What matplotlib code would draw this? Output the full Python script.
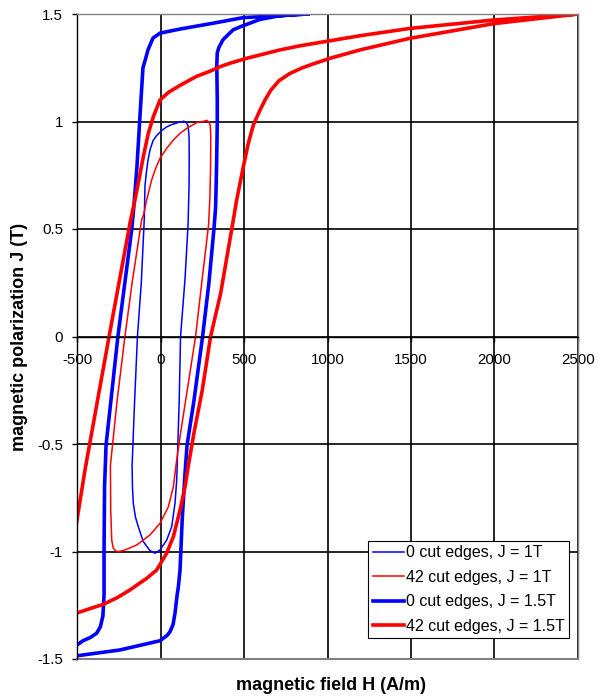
import matplotlib

matplotlib.use("Agg")

import matplotlib.pyplot as plt

plt.rcParams["font.family"] = ["Liberation Sans", "DejaVu Sans"]

# Hysteresis loops: each loop is traced from the upper tip down the
# descending branch and back up the ascending branch.
h_0cut_1t = [
    140, 115, 97, 65, 37, 10, -23, -45, -62, -75, -85, -93, -97, -115, -138,
    -155, -170, -168, -163, -150, -133, -103, -63, -33, -3, 37, 67, 87, 97, 100,
    112, 120, 147, 165, 171, 172, 171, 165, 155, 140,
]
j_0cut_1t = [
    1.0, 0.998, 0.993, 0.985, 0.975, 0.96, 0.935, 0.91, 0.87, 0.82, 0.76, 0.70,
    0.55, 0.25, 0.0, -0.3, -0.6, -0.70, -0.775, -0.84, -0.885, -0.954, -0.996,
    -1.008, -0.993, -0.947, -0.885, -0.775, -0.667, -0.6, -0.3, 0.0, 0.27, 0.52,
    0.7, 0.85, 0.93, 0.98, 0.995, 1.0,
]

h_42cut_1t = [
    277, 250, 217, 157, 117, 77, 37, -3, -30, -53, -83, -100, -113, -170, -213,
    -260, -300, -298, -292, -283, -262, -223, -143, -63, -3, 47, 77, 97, 120,
    150, 180, 210, 250, 288, 296, 300, 301, 298, 290, 277,
]
j_42cut_1t = [
    1.004, 1.0, 0.995, 0.968, 0.945, 0.914, 0.875, 0.829, 0.78, 0.728, 0.635,
    0.57, 0.542, 0.25, 0.0, -0.3, -0.6, -0.807, -0.947, -0.985, -1.001, -0.996,
    -0.97, -0.923, -0.869, -0.792, -0.699, -0.574, -0.45, -0.3, -0.15, 0.0,
    0.27, 0.52, 0.65, 0.8, 0.93, 0.98, 0.998, 1.004,
]

h_0cut_15t = [
    883, 700, 494, 314, 117, -3, -45, -75, -90, -105, -117, -129, -141, -160,
    -172, -255, -326, -335, -338, -338, -345, -360, -382, -420, -464, -500,
    -540, -570, -580, -540, -500, -243, -3, 40, 57, 75, 87, 100, 107, 117, 130,
    147, 159, 200, 252, 290, 320, 330, 336, 340, 340, 337, 340, 350, 374, 434,
    476, 596, 700, 793, 883,
]
j_0cut_15t = [
    1.5, 1.492, 1.483, 1.457, 1.43, 1.411, 1.388, 1.333, 1.29, 1.25, 1.1, 0.946,
    0.79, 0.6, 0.5, 0.0, -0.505, -0.7, -1.0, -1.2, -1.3, -1.35, -1.38, -1.4,
    -1.415, -1.435, -1.455, -1.47, -1.5, -1.492, -1.485, -1.458, -1.415, -1.39,
    -1.373, -1.34, -1.286, -1.2, -1.164, -1.086, -0.85, -0.635, -0.505, -0.3,
    0.0, 0.25, 0.5, 0.6, 0.8, 1.0, 1.1, 1.26, 1.32, 1.345, 1.38, 1.426, 1.44,
    1.475, 1.49, 1.497, 1.5,
]

h_42cut_15t = [
    2500, 1994, 1494, 1195, 995, 835, 716, 516, 420, 356, 300, 216, 117, 50,
    -3, -43, -73, -103, -133, -153, -179, -308, -452, -500, -540, -600, -560,
    -500, -420, -343, -260, -183, -130, -83, -23, 37, 77, 117, 147, 167, 200,
    250, 300, 360, 436, 456, 496, 526, 556, 596, 626, 660, 710, 776, 850, 915,
    1015, 1195, 1494, 1994, 2500,
]
j_42cut_15t = [
    1.5, 1.472, 1.433, 1.399, 1.373, 1.352, 1.333, 1.294, 1.272, 1.255, 1.235,
    1.21, 1.168, 1.137, 1.1, 1.022, 0.945, 0.836, 0.713, 0.635, 0.542, 0.0,
    -0.62, -0.853, -1.05, -1.35, -1.30, -1.286, -1.265, -1.246, -1.215, -1.179,
    -1.15, -1.125, -1.086, -1.008, -0.931, -0.807, -0.699, -0.6, -0.45, -0.25,
    0.0, 0.2, 0.542, 0.635, 0.79, 0.899, 0.984, 1.053, 1.1, 1.145, 1.19, 1.224,
    1.25, 1.268, 1.294, 1.333, 1.387, 1.455, 1.5,
]

x_ticks = [-500, 0, 500, 1000, 1500, 2000, 2500]
y_ticks = [-1.5, -1, -0.5, 0, 0.5, 1, 1.5]
y_tick_labels = ["-1.5", "-1", "-0.5", "0", "0.5", "1", "1.5"]

fig = plt.figure(figsize=(6.04, 6.98), dpi=100)
ax = fig.add_axes([77 / 604, 39 / 698, 501 / 604, 645 / 698])

ax.plot(h_0cut_1t, j_0cut_1t, color="#0000ff", lw=1.1, label="0 cut edges, J = 1T")
ax.plot(h_42cut_1t, j_42cut_1t, color="#ff0000", lw=1.1, label="42 cut edges, J = 1T")
ax.plot(h_0cut_15t, j_0cut_15t, color="#0000ff", lw=2.6, label="0 cut edges, J = 1.5T")
ax.plot(h_42cut_15t, j_42cut_15t, color="#ff0000", lw=2.6, label="42 cut edges, J = 1.5T")

ax.set_xlim(-500, 2500)
ax.set_ylim(-1.5, 1.5)
ax.set_xticks(x_ticks)
ax.set_xticklabels([str(v) for v in x_ticks])
ax.set_yticks(y_ticks)
ax.set_yticklabels(y_tick_labels)

ax.set_axisbelow(True)
ax.grid(True, color="black", lw=1.2)

# x axis crosses at J = 0, frame kept grey like a spreadsheet plot area
ax.spines["bottom"].set_position(("data", 0))
ax.spines["bottom"].set_color("black")
ax.spines["bottom"].set_linewidth(1.0)
ax.spines["left"].set_color("black")
ax.spines["left"].set_linewidth(1.0)
for side in ("top", "right"):
    ax.spines[side].set_color("#808080")
    ax.spines[side].set_linewidth(1.0)
ax.axhline(-1.5, color="#808080", lw=1.5, clip_on=False, zorder=2.5)

ax.tick_params(axis="x", direction="out", length=3.6, width=1.0, pad=8.5,
               labelsize=10.8, colors="black")
ax.tick_params(axis="y", direction="out", length=3.6, width=1.0, pad=6.5,
               labelsize=10.8, colors="black")

fig.text(331 / 604, 1 - 685 / 698, "magnetic field H (A/m)", ha="center",
         va="center", fontsize=13, fontweight="bold")
fig.text(20 / 604, 1 - 337 / 698, "magnetic polarization J (T)", ha="center",
         va="center", rotation=90, fontsize=13, fontweight="bold")

leg = ax.legend(loc="lower right", bbox_to_anchor=(0.982, 0.0326),
                fontsize=11.5, frameon=True, fancybox=False, framealpha=1,
                edgecolor="black", handlelength=1.94, handletextpad=0.15,
                labelspacing=0.59, borderpad=0.27, borderaxespad=0)
leg.get_frame().set_linewidth(0.8)

fig.savefig("out.png", dpi=100, facecolor="white")
